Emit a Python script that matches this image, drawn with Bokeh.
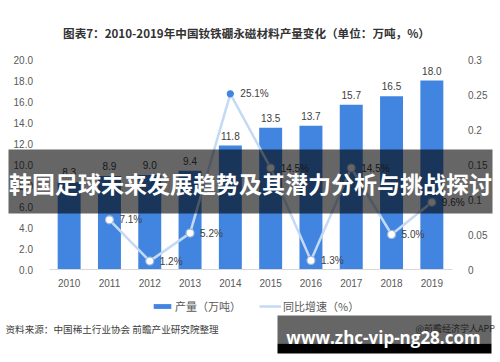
from bokeh.plotting import figure
from bokeh.models import (ColumnDataSource, Range1d, FactorRange, LinearAxis, FixedTicker, Label,
                          BoxAnnotation, Legend, LegendItem, LabelSet, PrintfTickFormatter)
from bokeh.core.properties import value
from bokeh.embed import file_html
from bokeh.resources import INLINE

# ---- data ----
years = ["2010", "2011", "2012", "2013", "2014", "2015", "2016", "2017", "2018", "2019"]
output = [8.3, 8.9, 9.0, 9.4, 11.8, 13.5, 13.7, 15.7, 16.5, 18.0]
growth_years = ["2011", "2012", "2013", "2014", "2015", "2016", "2017", "2018", "2019"]
growth = [0.071, 0.012, 0.052, 0.251, 0.145, 0.013, 0.145, 0.050, 0.096]
left_ticks = [0, 2, 4, 6, 8, 10, 12, 14, 16, 18, 20]
right_ticks = [0, 0.05, 0.1, 0.15, 0.2, 0.25, 0.3]
right_tick_labels = ["0", "0.05", "0.1", "0.15", "0.2", "0.25", "0.3"]
highlight_year = "2014"

title_text = "图表7：2010-2019年中国钕铁硼永磁材料产量变化（单位：万吨，%）"
banner_text = "韩国足球未来发展趋势及其潜力分析与挑战探讨"
source_text = "资料来源：中国稀土行业协会 前瞻产业研究院整理"
credit_text = "@前瞻经济学人APP"
url_text = "www.zhc-vip-ng28.com"
bar_legend = "产量（万吨）"
line_legend = "同比增速（%）"

CJK = "Noto Sans CJK SC"
NUM = "Liberation Sans"
BAR_COLOR = "#4285e0"
LINE_COLOR = "#c4d9f4"

# ---- layout (pixels) ----
W, H = 500, 362
PLOT_TOP, PLOT_BOTTOM = 59, 269          # pixel rows of 20.0 and 0.0
px_per_unit = (PLOT_BOTTOM - PLOT_TOP) / (left_ticks[-1] - left_ticks[0])
y_start = left_ticks[0] - (H - PLOT_BOTTOM) / px_per_unit
y_end = left_ticks[-1] + PLOT_TOP / px_per_unit
px_per_pct = (PLOT_BOTTOM - PLOT_TOP) / (right_ticks[-1] - right_ticks[0])
r_start = right_ticks[0] - (H - PLOT_BOTTOM) / px_per_pct
r_end = right_ticks[-1] + PLOT_TOP / px_per_pct
CAT_PX = 40.3
pad = (W / CAT_PX - len(years)) / 2

p = figure(x_range=FactorRange(factors=years, range_padding=pad, range_padding_units="absolute"),
           y_range=Range1d(y_start, y_end), width=W, height=H,
           output_backend="svg", toolbar_location=None, min_border=0)
p.min_border_left = p.min_border_right = p.min_border_top = p.min_border_bottom = 0
p.outline_line_color = None
p.xgrid.grid_line_color = None
p.ygrid.grid_line_color = None
p.background_fill_color = "white"
p.border_fill_color = "white"

# left axis (fixed at left edge of first category)
p.yaxis.fixed_location = 0
p.yaxis.ticker = FixedTicker(ticks=left_ticks)
p.yaxis.formatter = PrintfTickFormatter(format="%.1f")
p.yaxis.axis_line_color = None
p.yaxis.major_tick_line_color = None
p.yaxis.minor_tick_line_color = None
p.yaxis.major_label_standoff = 10
p.yaxis.major_label_text_font = NUM
p.yaxis.major_label_text_font_size = "10px"
p.yaxis.major_label_text_color = "#595959"

# x axis (fixed at y = 0)
p.xaxis.fixed_location = 0
p.xaxis.bounds = (0, len(years))
p.xaxis.axis_line_color = "#d9d9d9"
p.xaxis.major_tick_line_color = None
p.xaxis.major_tick_out = 0
p.xaxis.major_label_standoff = 9
p.xaxis.major_label_text_font = NUM
p.xaxis.major_label_text_font_size = "10px"
p.xaxis.major_label_text_color = "#595959"

# right axis
p.extra_y_ranges = {"pct": Range1d(r_start, r_end)}
ra = LinearAxis(y_range_name="pct", ticker=FixedTicker(ticks=right_ticks), fixed_location=len(years))
ra.major_label_overrides = {t: s for t, s in zip(right_ticks, right_tick_labels)}
ra.axis_line_color = None
ra.major_tick_line_color = None
ra.minor_tick_line_color = None
ra.major_label_standoff = 10
ra.major_label_text_font = NUM
ra.major_label_text_font_size = "10px"
ra.major_label_text_color = "#595959"
p.add_layout(ra, "right")

# bars
bsrc = ColumnDataSource(dict(x=years, y=output, lbl=["%.1f" % v for v in output]))
bars = p.vbar(x="x", top="y", width=0.57, source=bsrc, fill_color=BAR_COLOR, line_color=None)
p.add_layout(LabelSet(x="x", y="y", text="lbl", source=bsrc, y_offset=6,
                      text_align="center", text_baseline="bottom",
                      text_font=value(NUM), text_font_size="10px", text_color="#404040"))

# growth line
gsrc = ColumnDataSource(dict(
    x=growth_years, y=growth, lbl=["%.1f%%" % (v * 100) for v in growth],
    fill=[BAR_COLOR if yr == highlight_year else "white" for yr in growth_years],
    line=[BAR_COLOR if yr == highlight_year else "#9fb6d6" for yr in growth_years],
    size=[6 if yr == highlight_year else 8 for yr in growth_years],
))
gline = p.line(x="x", y="y", source=gsrc, y_range_name="pct", line_color=LINE_COLOR, line_width=2.5)
gpts = p.scatter(x="x", y="y", source=gsrc, y_range_name="pct", size="size",
                 fill_color="fill", line_color="line", line_width=1.2)
p.add_layout(LabelSet(x="x", y="y", text="lbl", source=gsrc, y_range_name="pct", x_offset=10,
                      text_align="left", text_baseline="middle",
                      text_font=value(NUM), text_font_size="10px", text_color="#404040"))

# legend (line item uses a solid dot like the original)
leg_dot = p.scatter(x=[], y=[], y_range_name="pct", size=5, fill_color=BAR_COLOR, line_color=BAR_COLOR)
legend = Legend(items=[LegendItem(label=bar_legend, renderers=[bars]),
                       LegendItem(label=line_legend, renderers=[gline, leg_dot])],
                orientation="horizontal", location=(151, 48),
                glyph_width=22, glyph_height=6, label_standoff=2, spacing=18,
                padding=2, margin=0, border_line_color=None, background_fill_alpha=0,
                label_text_font=CJK, label_text_font_size="11px", label_text_color="#595959")
p.add_layout(legend)

# title
p.add_layout(Label(x=246, y=32, x_units="canvas", y_units="canvas", text=title_text,
                   text_align="center", text_baseline="middle", text_font=CJK,
                   text_font_style="bold", text_font_size="11.6px", text_color="#333333"))

# source and credit
p.add_layout(Label(x=5, y=328, x_units="canvas", y_units="canvas", text=source_text,
                   text_align="left", text_baseline="middle", text_font=CJK,
                   text_font_size="9.6px", text_color="#404040"))
p.add_layout(Label(x=415, y=328, x_units="canvas", y_units="canvas", text=credit_text,
                   text_align="left", text_baseline="middle", text_font=CJK,
                   text_font_size="9px", text_color="#595959"))

# banner overlay
p.add_layout(BoxAnnotation(left=8, right=492, top=149, bottom=213,
                           left_units="canvas", right_units="canvas",
                           top_units="canvas", bottom_units="canvas",
                           fill_color="black", fill_alpha=0.6, line_color=None, level="overlay"))
p.add_layout(Label(x=250, y=182, x_units="canvas", y_units="canvas", text=banner_text,
                   text_align="center", text_baseline="middle", text_font=CJK,
                   text_font_style="bold", text_font_size="23px", text_color="white",
                   level="overlay"))

# url watermark
p.add_layout(BoxAnnotation(left=277, right=491, top=315, bottom=343,
                           left_units="canvas", right_units="canvas",
                           top_units="canvas", bottom_units="canvas",
                           fill_color="black", fill_alpha=0.6, line_color=None, level="overlay"))
p.add_layout(BoxAnnotation(left=277, right=491, top=343, bottom=353,
                           left_units="canvas", right_units="canvas",
                           top_units="canvas", bottom_units="canvas",
                           fill_color="black", fill_alpha=1.0, line_color=None, level="overlay"))
p.add_layout(Label(x=383, y=337, x_units="canvas", y_units="canvas", text=url_text,
                   text_align="center", text_baseline="middle", text_font="Open Sans",
                   text_font_style="bold", text_font_size="17px", text_color="white",
                   level="overlay"))

open("out.html", "w").write(file_html(p, INLINE))
